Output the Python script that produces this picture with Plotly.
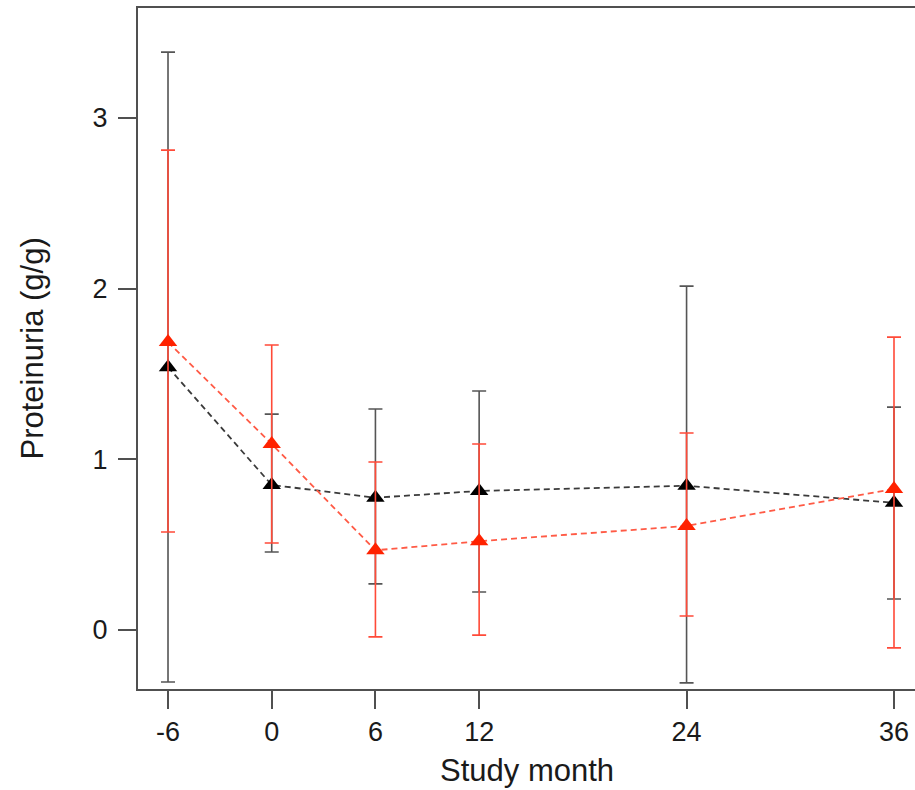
import plotly.graph_objects as go

months = [-6, 0, 6, 12, 24, 36]
tick_labels = ["-6", "0", "6", "12", "24", "36"]

black_mean = [1.54, 0.85, 0.775, 0.815, 0.845, 0.745]
black_upper = [3.386, 1.265, 1.295, 1.40, 2.015, 1.306]
black_lower = [-0.305, 0.457, 0.27, 0.223, -0.31, 0.182]

red_mean = [1.687, 1.09, 0.467, 0.52, 0.61, 0.826]
red_upper = [2.812, 1.67, 0.984, 1.09, 1.154, 1.716]
red_lower = [0.574, 0.51, -0.04, -0.03, 0.082, -0.105]

y_ticks = [0, 1, 2, 3]

def err(mean, upper, lower):
    plus = [u - m for u, m in zip(upper, mean)]
    minus = [m - l for m, l in zip(mean, lower)]
    return plus, minus

fig = go.Figure()

bp, bm = err(black_mean, black_upper, black_lower)
rp, rm = err(red_mean, red_upper, red_lower)

fig.add_trace(go.Scatter(
    x=months, y=black_mean, mode="lines+markers",
    line=dict(color="#3a3a3a", width=1.8, dash="6px,4px"),
    marker=dict(symbol="triangle-up", size=16, color="#000000"),
    error_y=dict(type="data", symmetric=False, array=bp, arrayminus=bm,
                 color="#555555", thickness=1.6, width=7),
    showlegend=False,
))
fig.add_trace(go.Scatter(
    x=months, y=red_mean, mode="lines+markers",
    line=dict(color="#ff5a45", width=1.8, dash="6px,4px"),
    marker=dict(symbol="triangle-up", size=16, color="#ff2200"),
    error_y=dict(type="data", symmetric=False, array=rp, arrayminus=rm,
                 color="#ff4a38", thickness=1.6, width=7),
    showlegend=False,
))

axis_font = dict(family="Liberation Sans, Arial, sans-serif", size=27, color="#1a1a1a")
title_font = dict(family="Liberation Sans, Arial, sans-serif", size=31, color="#1a1a1a")

fig.update_layout(
    width=915, height=790,
    margin=dict(l=138, r=0, t=8, b=101),
    paper_bgcolor="white", plot_bgcolor="white",
    font=axis_font,
    xaxis=dict(
        range=[-7.736, 37.215], tickvals=months, ticktext=tick_labels,
        showgrid=False, zeroline=False, showline=True, linecolor="#505050",
        linewidth=2, mirror=True, ticks="outside", ticklen=18, tickwidth=1.6,
        tickcolor="#505050", tickfont=axis_font, ticklabelstandoff=0,
    ),
    yaxis=dict(
        range=[-0.3457, 3.6445], tickvals=y_ticks,
        showgrid=False, zeroline=False, showline=True, linecolor="#505050",
        linewidth=2, mirror=False, ticks="outside", ticklen=18, tickwidth=1.6,
        tickcolor="#505050", tickfont=axis_font, ticklabelstandoff=5,
    ),
    annotations=[
        dict(text="Study month", xref="paper", yref="paper", x=0.5, y=0,
             xanchor="center", yanchor="top", yshift=-62, showarrow=False,
             font=title_font),
        dict(text="Proteinuria (g/g)", xref="paper", yref="paper", x=0, y=0.5,
             xanchor="center", yanchor="middle", xshift=-106, textangle=-90,
             showarrow=False, font=title_font),
    ],
)

fig.write_html(
    "out.html",
    config={"displayModeBar": False},
    post_script="document.body.style.margin='0';document.body.style.overflow='hidden';",
)
